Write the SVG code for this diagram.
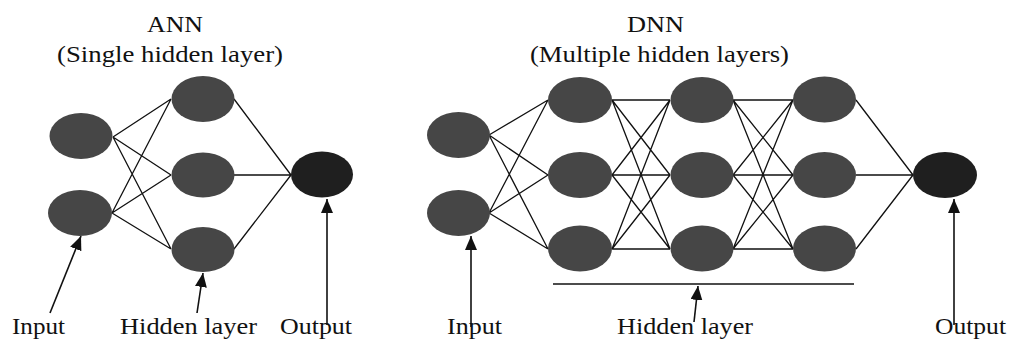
<svg xmlns="http://www.w3.org/2000/svg" width="1009" height="340" viewBox="0 0 1009 340">
<style>
  .n { fill: #464646; }
  .o { fill: #1f1f1f; }
  .e { stroke: #111; stroke-width: 1.3; fill: none; }
  .a { stroke: #111; stroke-width: 1.6; fill: none; marker-end: url(#ah); }
  text { font-family: "Liberation Serif", "Times New Roman", serif; font-size: 24px; fill: #111; }
</style>
<defs>
  <marker id="ah" markerUnits="userSpaceOnUse" markerWidth="15" markerHeight="12" refX="14" refY="6" orient="auto">
    <path d="M0,0 L14,6 L0,12 z" fill="#111"/>
  </marker>
</defs>
<rect width="1009" height="340" fill="#fff"/>

<g id="connectors">
  <path class="e" d="M113,137 L171,99 M113,137 L171,175 M113,137 L171,249 M112,213 L171,99 M112,213 L171,175 M112,213 L171,249"/>
  <path class="e" d="M234,99 L291,175 M234,175 L291,175 M234,249 L291,175"/>
  <path class="e" d="M489,135 L548,100 M489,135 L548,175 M489,135 L548,249 M489,213 L548,100 M489,213 L548,175 M489,213 L548,249"/>
  <path class="e" d="M612,100 L670,100 M612,100 L670,175 M612,100 L670,249 M612,175 L670,100 M612,175 L670,175 M612,175 L670,249 M612,249 L670,100 M612,249 L670,175 M612,249 L670,249"/>
  <path class="e" d="M733,100 L793,100 M733,100 L793,175 M733,100 L793,249 M733,175 L793,100 M733,175 L793,175 M733,175 L793,249 M733,249 L793,100 M733,249 L793,175 M733,249 L793,249"/>
  <path class="e" d="M856,100 L913,175 M856,175 L913,175 M856,249 L913,175"/>
  <line class="a" x1="50" y1="313" x2="81" y2="236"/>
  <line class="a" x1="197" y1="313" x2="203" y2="273"/>
  <line class="a" x1="327" y1="325" x2="327" y2="199"/>
  <line class="a" x1="471" y1="327" x2="471" y2="236"/>
  <line class="a" x1="694" y1="322" x2="698" y2="286"/>
  <line class="a" x1="954" y1="325" x2="954" y2="199"/>
  <line x1="553" y1="284" x2="854" y2="284" stroke="#111" stroke-width="1.6"/>
</g>

<g id="ann-title">
  <text x="147" y="32" textLength="56" lengthAdjust="spacingAndGlyphs">ANN</text>
  <text x="57" y="62" textLength="226" lengthAdjust="spacingAndGlyphs">(Single hidden layer)</text>
</g>
<g id="ann-in1"><ellipse class="n" cx="81" cy="136" rx="31.5" ry="23"/></g>
<g id="ann-in2"><ellipse class="n" cx="80" cy="213" rx="32" ry="23"/></g>
<g id="ann-h1"><ellipse class="n" cx="203" cy="99" rx="31.5" ry="23"/></g>
<g id="ann-h2"><ellipse class="n" cx="203" cy="175" rx="31.5" ry="22.5"/></g>
<g id="ann-h3"><ellipse class="n" cx="203" cy="249.5" rx="31.5" ry="22.5"/></g>
<g id="ann-out"><ellipse class="o" cx="322" cy="174.5" rx="31" ry="23"/></g>
<g id="ann-labels">
  <text x="12" y="334" textLength="53" lengthAdjust="spacingAndGlyphs">Input</text>
  <text x="120" y="334" textLength="137" lengthAdjust="spacingAndGlyphs">Hidden layer</text>
  <text x="280" y="334" textLength="72" lengthAdjust="spacingAndGlyphs">Output</text>
</g>

<g id="dnn-title">
  <text x="627" y="32" textLength="57" lengthAdjust="spacingAndGlyphs">DNN</text>
  <text x="530" y="62" textLength="259" lengthAdjust="spacingAndGlyphs">(Multiple hidden layers)</text>
</g>
<g id="dnn-in1"><ellipse class="n" cx="458.5" cy="135" rx="31.5" ry="23"/></g>
<g id="dnn-in2"><ellipse class="n" cx="458.5" cy="213" rx="31.5" ry="23"/></g>
<g id="dnn-h1a"><ellipse class="n" cx="580" cy="100" rx="32" ry="23"/></g>
<g id="dnn-h1b"><ellipse class="n" cx="580" cy="175" rx="32" ry="23"/></g>
<g id="dnn-h1c"><ellipse class="n" cx="580" cy="248.5" rx="32" ry="23"/></g>
<g id="dnn-h2a"><ellipse class="n" cx="702" cy="100" rx="31.5" ry="23"/></g>
<g id="dnn-h2b"><ellipse class="n" cx="702" cy="175" rx="31.5" ry="23"/></g>
<g id="dnn-h2c"><ellipse class="n" cx="702" cy="248.5" rx="31.5" ry="23"/></g>
<g id="dnn-h3a"><ellipse class="n" cx="824.5" cy="99.5" rx="31.5" ry="23"/></g>
<g id="dnn-h3b"><ellipse class="n" cx="824.5" cy="175" rx="31.5" ry="23"/></g>
<g id="dnn-h3c"><ellipse class="n" cx="824.5" cy="248.5" rx="31.5" ry="23"/></g>
<g id="dnn-out"><ellipse class="o" cx="945" cy="175" rx="32" ry="23"/></g>
<g id="dnn-labels">
  <text x="447" y="334" textLength="55" lengthAdjust="spacingAndGlyphs">Input</text>
  <text x="617" y="334" textLength="136" lengthAdjust="spacingAndGlyphs">Hidden layer</text>
  <text x="935" y="334" textLength="71" lengthAdjust="spacingAndGlyphs">Output</text>
</g>
</svg>
